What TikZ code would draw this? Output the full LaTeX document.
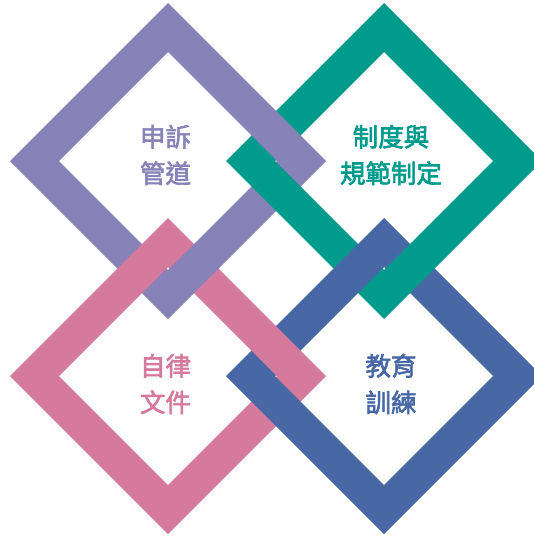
\documentclass[tikz,border=0pt]{standalone}
\usepackage{fontspec}
\newfontfamily\cjk[FakeBold=2.5]{Noto Sans CJK TC}
\definecolor{cpur}{HTML}{8782B8}
\definecolor{cteal}{HTML}{009B8D}
\definecolor{cpink}{HTML}{D57A9D}
\definecolor{cblue}{HTML}{4868A5}
\newcommand\myring[3]{\fill[#3,even odd rule] (#1,#2) ++(0,-158) -- ++(158,158) -- ++(-158,158) -- ++(-158,-158) -- cycle (#1,#2) ++(0,-109) -- ++(109,109) -- ++(-109,109) -- ++(-109,-109) -- cycle;}
\newcommand\myover[5]{\begin{scope}\clip (#1,#2) ++(0,-26) -- ++(26,26) -- ++(-26,26) -- ++(-26,-26) -- cycle;\myring{#3}{#4}{#5}\end{scope}}
\begin{document}
\begin{tikzpicture}[x=1pt,y=-1pt,
  lbl/.style={align=center,font=\cjk\fontsize{25.5}{36.5}\selectfont,inner sep=0pt}]
\useasboundingbox (0,0) rectangle (534,538);
\myring{168}{161}{cpur}
\myring{384}{161}{cteal}
\myring{168}{376}{cpink}
\myring{384}{376}{cblue}
\myover{276}{135.5}{168}{161}{cpur}
\myover{194}{268.5}{168}{161}{cpur}
\myover{276}{350.5}{168}{376}{cpink}
\myover{410}{268.5}{384}{161}{cteal}
\node[lbl,text=cpur] (t1) at (165.5,155) {申訴\\管道};
\node[lbl,text=cteal] (t2) at (391,155) {制度與\\規範制定};
\node[lbl,text=cpink] (t3) at (165.5,384) {自律\\文件};
\node[lbl,text=cblue] (t4) at (391,384) {教育\\訓練};
\end{tikzpicture}
\end{document}
